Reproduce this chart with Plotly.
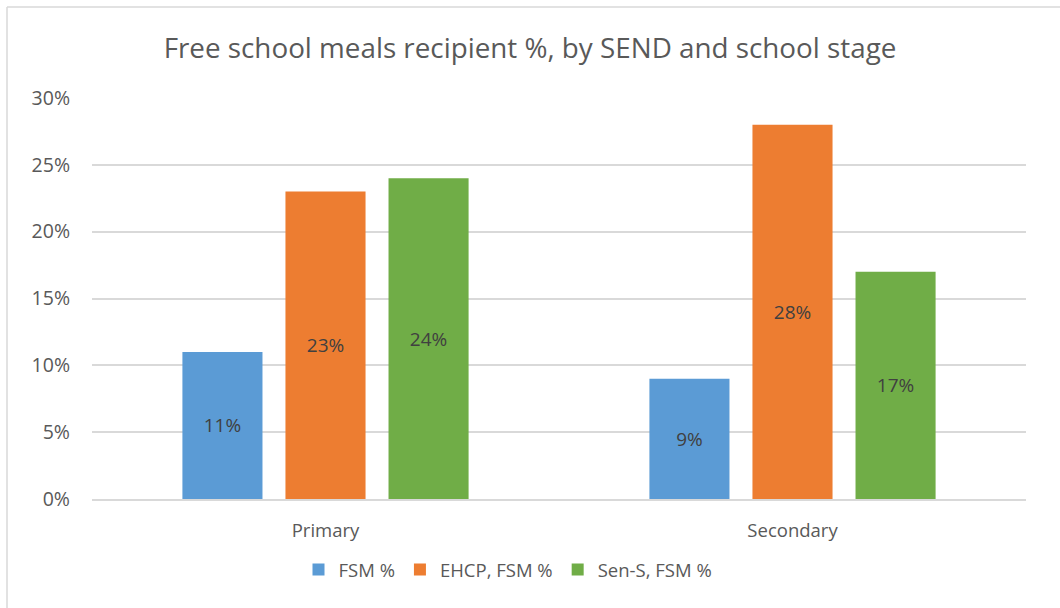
import plotly.graph_objects as go

categories = ["Primary", "Secondary"]
series_names = ["FSM %", "EHCP, FSM %", "Sen-S, FSM %"]
fsm = [0.11, 0.09]
ehcp_fsm = [0.23, 0.28]
sens_fsm = [0.24, 0.17]
colors = ["#5B9BD5", "#ED7D31", "#70AD47"]
y_ticks = [0, 0.05, 0.10, 0.15, 0.20, 0.25, 0.30]
y_tick_labels = ["0%", "5%", "10%", "15%", "20%", "25%", "30%"]

W, H = 1060, 608
ml, mr, mt, mb = 92, 34, 98, 109
pw, ph = W - ml - mr, H - mt - mb

font_family = "Open Sans, Noto Sans, sans-serif"
text_col = "#595959"

fig = go.Figure()
for name, vals, col in zip(series_names, [fsm, ehcp_fsm, sens_fsm], colors):
    fig.add_trace(go.Bar(
        x=categories, y=vals, name=name, marker_color=col,
        marker_line_width=0,
        text=[f"{round(v*100)}%" for v in vals],
        textposition="inside", insidetextanchor="middle",
        textfont=dict(color="#404040", size=19, family=font_family),
        hoverinfo="skip",
    ))

# chart border (left and top edges visible)
x0 = (7 - ml) / pw
y1 = 1 + (mt - 7) / ph
fig.add_shape(type="line", xref="paper", yref="paper", x0=x0, x1=x0, y0=-1, y1=y1,
              line=dict(color="#D9D9D9", width=1.5))
fig.add_shape(type="line", xref="paper", yref="paper", x0=x0, x1=2, y0=y1, y1=y1,
              line=dict(color="#D9D9D9", width=1.5))

fig.update_layout(
    width=W, height=H,
    margin=dict(l=ml, r=mr, t=mt, b=mb, autoexpand=False),
    paper_bgcolor="white", plot_bgcolor="white",
    barmode="group", bargap=0.338, bargroupgap=0.223,
    title=dict(text="Free school meals recipient %, by SEND and school stage",
               x=0.5, xanchor="center", y=1 - 48 / H, yanchor="middle",
               font=dict(size=27.8, color=text_col, family=font_family)),
    font=dict(family=font_family, color=text_col),
    yaxis=dict(range=[0, 0.30], tickvals=y_ticks, ticktext=y_tick_labels,
               showgrid=True, gridcolor="#D9D9D9", gridwidth=1.5,
               zeroline=False, showline=False, ticks="",
               tickfont=dict(size=19.5, color=text_col), ticklabelstandoff=21),
    xaxis=dict(showline=True, linecolor="#D9D9D9", linewidth=1.5, ticks="",
               tickfont=dict(size=18.5, color=text_col), ticklabelstandoff=14),
    legend=dict(orientation="h", x=(508 - ml) / pw, xanchor="center",
                y=-(570 - (mt + ph)) / ph,
                yanchor="middle", font=dict(size=18.5, color=text_col),
                itemwidth=30, traceorder="normal"),
    showlegend=True,
)
fig.write_html("out.html", config={"displayModeBar": False},
               post_script="document.body.style.margin='0';document.body.style.padding='0';")
